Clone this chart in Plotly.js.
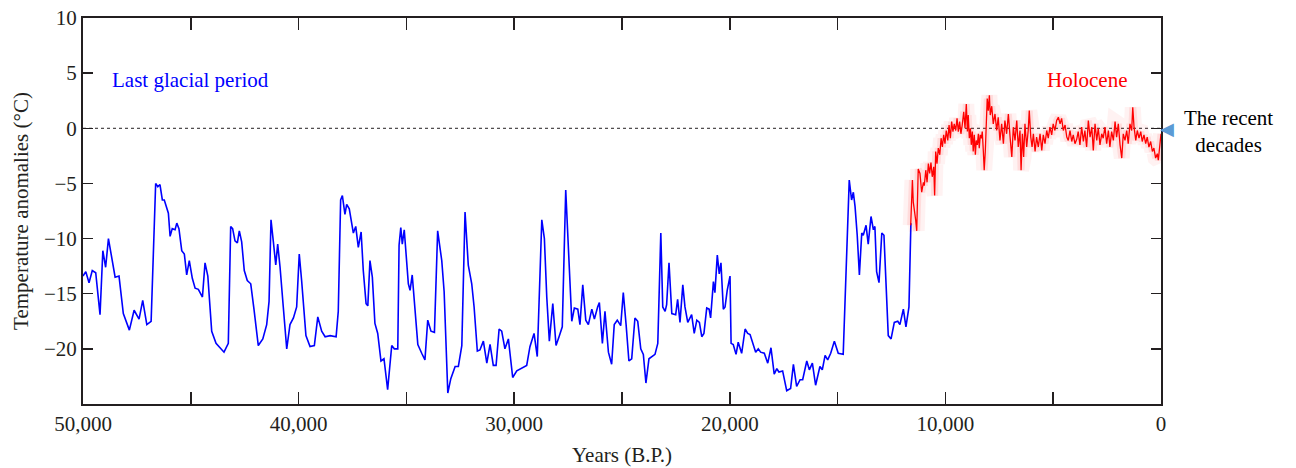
<!DOCTYPE html>
<html>
<head>
<meta charset="utf-8">
<script src="https://cdn.plot.ly/plotly-3.0.1.min.js"></script>
<style>html,body{margin:0;padding:0;background:#fff;}#chart{width:1296px;height:468px;}</style>
</head>
<body>
<div id="chart"></div>
<script>
// Last glacial period (years B.P., temperature anomaly °C)
const glacialYears = [50000,49870,49720,49570,49410,49210,49080,48950,48820,48670,48510,48330,48130,47850,47630,47400,47230,47040,46840,46630,46530,46430,46320,46230,46040,45960,45860,45730,45650,45550,45420,45300,45190,45070,44930,44800,44650,44460,44340,44210,44030,43830,43460,43260,43150,43060,42950,42840,42750,42640,42520,42380,42220,42070,41870,41660,41480,41370,41280,41170,41060,40970,40860,40710,40550,40400,40240,40090,39970,39860,39660,39470,39270,39110,38930,38770,38540,38260,38160,38050,37970,37850,37770,37650,37460,37350,37230,37100,37000,36870,36790,36690,36580,36460,36330,36180,36040,35870,35680,35560,35400,35340,35260,35190,35100,34910,34830,34730,34600,34470,34290,34140,34010,33860,33700,33550,33360,33250,33080,32940,32740,32590,32430,32280,32130,31970,31860,31710,31590,31430,31270,31120,30970,30840,30700,30580,30430,30270,30070,29880,29420,29270,29080,28930,28720,28600,28490,28370,28210,28060,27920,27770,27610,27490,27330,27210,27050,26950,26820,26680,26560,26400,26280,26130,26050,25910,25790,25630,25480,25360,25220,25060,24940,24810,24680,24550,24400,24270,24130,24010,23890,23750,23620,23470,23340,23200,23110,23000,22930,22820,22690,22510,22420,22310,22180,22080,21950,21770,21650,21530,21410,21300,21200,21070,20960,20890,20760,20690,20580,20490,20410,20300,20220,20120,19990,19940,19840,19710,19610,19450,19290,19170,19060,18960,18800,18680,18570,18400,18240,18090,17940,17820,17720,17550,17360,17180,17050,16900,16740,16620,16430,16310,16170,16020,15820,15710,15580,15460,15320,15150,14970,14740,14610,14460,14350,14270,14190,14090,13990,13880,13810,13680,13580,13450,13340,13270,13190,13080,12950,12850,12650,12520,12370,12210,12110,11950,11830,11690,11600];
const glacialTemps = [-13.4,-13.0,-14.0,-12.9,-13.1,-16.9,-11.1,-12.6,-10.0,-11.7,-13.5,-13.4,-16.8,-18.3,-16.5,-17.3,-15.6,-17.8,-17.5,-5.0,-5.3,-5.1,-6.5,-6.5,-7.7,-9.8,-9.1,-9.2,-8.6,-9.1,-11.1,-11.4,-13.3,-12.0,-13.6,-14.5,-14.6,-15.3,-12.2,-13.4,-18.4,-19.5,-20.3,-19.5,-8.9,-9.1,-10.2,-10.4,-9.3,-10.3,-12.9,-13.8,-14.1,-16.4,-19.7,-19.1,-17.8,-15.7,-8.3,-10.3,-12.4,-10.5,-12.6,-16.2,-20.0,-17.8,-17.2,-16.2,-11.4,-13.8,-18.8,-19.8,-19.7,-17.1,-18.4,-18.9,-18.8,-18.9,-16.6,-6.5,-6.1,-7.8,-6.9,-7.3,-9.5,-8.9,-10.8,-9.4,-12.9,-15.9,-16.1,-12.0,-13.5,-17.7,-18.6,-21.1,-20.9,-23.7,-19.7,-20.0,-20.0,-10.6,-9.0,-10.5,-9.2,-14.1,-14.7,-13.3,-16.5,-19.6,-20.4,-21.0,-17.4,-18.4,-18.5,-9.3,-12.0,-14.8,-24.0,-22.7,-21.6,-21.6,-19.7,-7.6,-12.4,-14.1,-16.2,-20.2,-20.1,-19.3,-21.3,-19.6,-21.5,-21.5,-18.2,-18.4,-20.0,-19.1,-22.6,-22.0,-21.5,-19.8,-18.6,-20.7,-8.3,-10.0,-15.3,-19.3,-15.9,-19.7,-18.9,-18.0,-5.6,-10.9,-17.5,-16.3,-16.4,-17.8,-14.2,-17.4,-17.8,-16.4,-17.3,-16.2,-15.8,-19.5,-16.6,-20.3,-21.4,-17.8,-17.4,-17.9,-14.9,-17.8,-21.1,-20.9,-17.2,-17.5,-20.0,-20.5,-23.1,-20.9,-20.7,-20.5,-19.5,-9.5,-16.2,-16.6,-16.0,-12.2,-16.8,-16.9,-15.5,-17.6,-14.2,-16.2,-17.6,-16.9,-18.6,-17.4,-17.6,-18.9,-18.6,-16.3,-16.4,-17.2,-13.9,-14.9,-11.5,-13.2,-12.2,-16.4,-16.2,-14.7,-13.4,-19.5,-19.6,-20.5,-19.4,-20.4,-18.2,-18.6,-18.7,-19.3,-20.3,-20.0,-20.3,-20.4,-21.3,-19.9,-22.3,-21.8,-22.1,-22.0,-23.8,-23.6,-21.4,-23.4,-22.8,-22.8,-21.1,-21.9,-21.3,-23.3,-21.6,-21.9,-20.6,-21.0,-20.4,-19.3,-20.4,-20.5,-12.9,-4.7,-6.5,-5.8,-7.1,-9.7,-13.3,-9.5,-9.7,-8.8,-10.5,-8.0,-9.2,-8.9,-13.0,-14.0,-9.5,-9.7,-18.8,-19.1,-17.6,-17.5,-17.8,-16.4,-18.0,-16.2,-8.6];

// Holocene (years B.P., temperature anomaly °C)
const holoceneYears = [11610,11560,11530,11490,11440,11380,11330,11280,11260,11180,11100,11020,10980,10910,10850,10790,10730,10670,10610,10540,10500,10450,10390,10330,10260,10200,10140,10080,10020,9960,9890,9830,9770,9710,9650,9590,9520,9460,9400,9340,9280,9220,9150,9090,9030,8980,8940,8890,8840,8800,8750,8710,8660,8610,8570,8520,8470,8430,8380,8330,8290,8240,8200,8150,8100,8060,8010,7960,7920,7850,7780,7700,7620,7550,7470,7390,7310,7240,7160,7080,7000,6920,6850,6770,6690,6620,6540,6490,6430,6370,6310,6230,6160,6110,6040,5980,5920,5840,5770,5690,5610,5530,5460,5380,5300,5230,5150,5070,5000,4920,4840,4760,4680,4610,4530,4450,4370,4300,4220,4140,4070,3990,3910,3840,3760,3680,3600,3530,3450,3370,3290,3210,3140,3060,2980,2910,2830,2750,2680,2600,2520,2440,2370,2290,2210,2130,2060,1980,1900,1820,1750,1670,1590,1520,1440,1360,1310,1250,1170,1100,1020,940,870,790,710,640,560,480,400,330,250,170,125,80,30,0];
const holoceneTemps = [-8.8,-6.5,-4.7,-6.7,-7.3,-8.3,-9.3,-6.1,-3.7,-4.1,-5.8,-4.9,-5.2,-3.8,-4.9,-3.2,-4.1,-3.1,-4.4,-3.5,-6.1,-2.1,-3.2,-1.8,-2.4,-0.9,-1.7,-0.6,-1.4,-0.2,-1.1,0.3,-0.9,0.6,-0.3,0.4,-0.2,0.9,-0.3,0.6,-0.5,0.3,1.5,0.0,2.2,-0.3,1.2,-0.9,0.0,-1.5,-0.3,-2.1,-0.6,-2.4,-1.1,-1.5,-0.5,-1.8,-0.6,-0.9,-0.3,-2.1,-3.8,-2.1,0.3,2.7,1.6,3.0,1.2,2.0,0.4,1.3,-0.2,1.0,-1.1,0.4,-1.4,0.7,-0.5,1.3,-0.8,-2.6,0.1,-1.1,0.7,-1.7,-0.2,-3.8,-0.5,-2.6,0.4,-1.7,-0.2,1.6,-0.8,-1.7,-0.5,-2.1,-0.8,-1.7,-0.5,-2.0,-0.6,-1.4,-0.2,-0.9,0.1,-0.6,0.4,-0.2,0.7,1.0,0.4,0.9,-0.2,0.3,-0.8,-1.1,-0.2,-1.2,-0.6,-1.4,-1.0,-0.3,-1.5,0.1,-1.2,-0.2,-1.7,0.7,-0.8,0.1,-2.0,0.4,-1.1,0.0,-1.5,-0.5,-0.9,0.1,-1.4,-0.2,-1.7,-0.3,-1.1,0.6,-0.8,0.4,-1.5,-2.7,-0.5,-1.1,-0.2,-1.4,0.4,-0.2,1.9,0.1,-1.1,-0.2,-0.9,-0.3,-1.2,-0.6,-1.4,-0.8,-1.7,-1.2,-2.1,-1.8,-2.7,-2.3,-2.9,-2.0,-1.1,-0.5];

// Axis ticks
const xTickVals = [50000,45000,40000,35000,30000,25000,20000,15000,10000,5000,0];
const xTickText = ['50,000','','40,000','','30,000','','20,000','','10,000','','0'];
const yTickVals = [-25,-20,-15,-10,-5,0,5,10];
const yTickText = ['','\u221220','\u221215','\u221210','\u22125','0','5','10'];

// Reference level and labels
const refLevel = [0];
const nowYear = [0];

const serif = 'Liberation Serif, Times New Roman, serif';
const FS = 21;

const traces = [
  {x: glacialYears, y: glacialTemps, type: 'scatter', mode: 'lines',
   line: {color: '#0000ff', width: 1.6}, hoverinfo: 'x+y'},
  {x: holoceneYears, y: holoceneTemps, type: 'scatter', mode: 'lines',
   line: {color: 'rgba(255,0,0,0.05)', width: 16}, hoverinfo: 'skip'},
  {x: holoceneYears, y: holoceneTemps, type: 'scatter', mode: 'lines',
   line: {color: 'rgba(255,0,0,0.09)', width: 7}, hoverinfo: 'skip'},
  {x: holoceneYears, y: holoceneTemps, type: 'scatter', mode: 'lines',
   line: {color: '#ff0000', width: 1.3}, hoverinfo: 'x+y'}
];

const layout = {
  width: 1296, height: 468,
  margin: {l: 83, r: 135, t: 18, b: 64},
  paper_bgcolor: '#ffffff', plot_bgcolor: '#ffffff',
  showlegend: false,
  font: {family: serif, size: FS, color: '#231f20'},
  xaxis: {
    range: [50000, 0], autorange: false,
    tickvals: xTickVals, ticktext: xTickText,
    ticks: 'inside', ticklen: 12, tickwidth: 1.5, tickcolor: '#231f20',
    showline: true, linecolor: '#231f20', linewidth: 2, mirror: 'ticks',
    showgrid: false, zeroline: false,
    tickfont: {family: serif, size: FS, color: '#231f20'},
    title: {text: 'Years (B.P.)', font: {family: serif, size: FS, color: '#231f20'}, standoff: 12}
  },
  yaxis: {
    range: [-25, 10], autorange: false,
    tickvals: yTickVals, ticktext: yTickText,
    ticks: 'inside', ticklen: 10, tickwidth: 1.5, tickcolor: '#231f20',
    showline: true, linecolor: '#231f20', linewidth: 2, mirror: 'ticks',
    showgrid: false, zeroline: false,
    tickfont: {family: serif, size: FS, color: '#231f20'},
    title: {text: 'Temperature anomalies (°C)', font: {family: serif, size: FS, color: '#231f20'}, standoff: 10}
  },
  shapes: [
    {type: 'line', xref: 'paper', yref: 'y', x0: 0, x1: 1, y0: refLevel[0], y1: refLevel[0],
     line: {color: '#231f20', width: 1, dash: 'dot'}, layer: 'below'}
  ],
  annotations: [
    {x: 48750, y: 4.4, xref: 'x', yref: 'y', xanchor: 'left', yanchor: 'middle',
     text: 'Last glacial period', showarrow: false,
     font: {family: serif, size: FS, color: '#0000ff'}},
    {x: 1480, y: 4.4, xref: 'x', yref: 'y', xanchor: 'right', yanchor: 'middle',
     text: 'Holocene', showarrow: false,
     font: {family: serif, size: FS, color: '#ff0000'}},
    {x: nowYear[0], y: refLevel[0], xref: 'x', yref: 'y', xanchor: 'left', yanchor: 'middle',
     text: '\u25C0', showarrow: false, xshift: -3,
     font: {family: 'DejaVu Sans', size: 18, color: '#5b9bd5'}},
    {x: 1, y: refLevel[0], xref: 'paper', yref: 'y', xanchor: 'center', yanchor: 'middle',
     text: 'The recent<br>decades', showarrow: false, xshift: 67, yshift: -3, align: 'center',
     font: {family: serif, size: FS, color: '#000000'}}
  ]
};

Plotly.newPlot('chart', traces, layout, {displayModeBar: false, staticPlot: true});
</script>
</body>
</html>
